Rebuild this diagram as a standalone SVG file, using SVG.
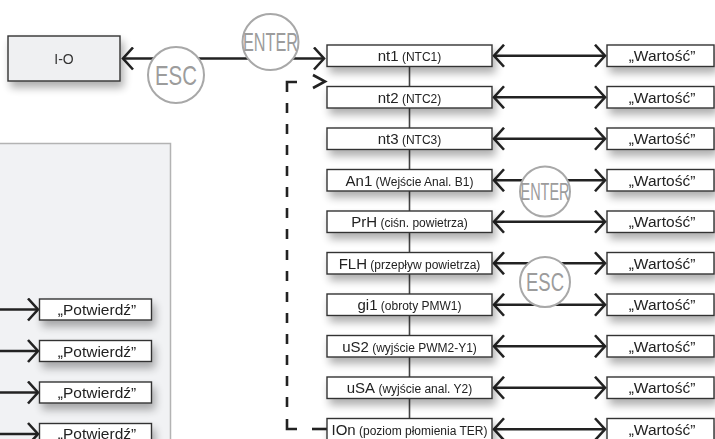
<svg xmlns="http://www.w3.org/2000/svg" width="715" height="439" viewBox="0 0 715 439">
<defs>
<filter id="sh" x="-20%" y="-40%" width="150%" height="220%">
<feGaussianBlur in="SourceAlpha" stdDeviation="4"/>
<feOffset dx="3" dy="6" result="b"/>
<feComponentTransfer><feFuncA type="linear" slope="0.32"/></feComponentTransfer>
<feMerge><feMergeNode/><feMergeNode in="SourceGraphic"/></feMerge>
</filter>
<marker id="ah" viewBox="-12 -12 14 24" refX="0" refY="0" markerWidth="14" markerHeight="24" markerUnits="userSpaceOnUse" orient="auto-start-reverse">
<path d="M -10 -11 L 0 0 L -10 11" fill="none" stroke="#222" stroke-width="2.6"/>
</marker>
</defs>
<style>
.box{fill:#fff;stroke:#333;stroke-width:1.4}
.t{font-family:"Liberation Sans",Arial,sans-serif;fill:#222;text-anchor:middle}
.big{font-size:15px}
.vb{font-size:15.5px}
.sm{font-size:12px}
.ln{stroke:#222;stroke-width:2.6;fill:none}
.vl{stroke:#444;stroke-width:1.6;fill:none}
.ds{stroke:#222;stroke-width:2.6;fill:none}
.circ{fill:#fff;stroke:#a8a8a8;stroke-width:2}
.ct{font-family:"Liberation Sans",Arial,sans-serif;fill:#9c9c9c;text-anchor:middle}
</style>
<rect width="715" height="439" fill="#fff"/>

<g id="panel">
<rect x="-5" y="143.5" width="175.5" height="300" fill="#f1f2f4" stroke="#b3b3b3" stroke-width="1.5"/>
</g>

<g id="connectors">
<line class="vl" x1="409.5" y1="66" x2="409.5" y2="419"/>
<line class="ln" x1="123" y1="58.5" x2="324" y2="58.5" marker-start="url(#ah)" marker-end="url(#ah)"/>
<polyline class="ds" points="297,82 287,82 287,92"/>
<line class="ds" x1="287" y1="103" x2="287" y2="418" stroke-dasharray="10 11"/>
<polyline class="ds" points="287,419 287,429 297,429"/>
<line class="ds" x1="312" y1="429" x2="327" y2="429"/>
<path d="M 313 75 L 325 81.5 L 313 88" fill="none" stroke="#222" stroke-width="2.6"/>
<line class="ln" x1="0" y1="309.5" x2="38" y2="309.5" marker-end="url(#ah)"/>
<line class="ln" x1="0" y1="351" x2="38" y2="351" marker-end="url(#ah)"/>
<line class="ln" x1="0" y1="392.5" x2="38" y2="392.5" marker-end="url(#ah)"/>
<line class="ln" x1="0" y1="434" x2="38" y2="434" marker-end="url(#ah)"/>
<line class="ln" x1="494" y1="55.75" x2="605" y2="55.75" marker-start="url(#ah)" marker-end="url(#ah)"/>
<line class="ln" x1="494" y1="97.25" x2="605" y2="97.25" marker-start="url(#ah)" marker-end="url(#ah)"/>
<line class="ln" x1="494" y1="138.75" x2="605" y2="138.75" marker-start="url(#ah)" marker-end="url(#ah)"/>
<line class="ln" x1="494" y1="180.25" x2="605" y2="180.25" marker-start="url(#ah)" marker-end="url(#ah)"/>
<line class="ln" x1="494" y1="221.75" x2="605" y2="221.75" marker-start="url(#ah)" marker-end="url(#ah)"/>
<line class="ln" x1="494" y1="263.25" x2="605" y2="263.25" marker-start="url(#ah)" marker-end="url(#ah)"/>
<line class="ln" x1="494" y1="304.75" x2="605" y2="304.75" marker-start="url(#ah)" marker-end="url(#ah)"/>
<line class="ln" x1="494" y1="346.25" x2="605" y2="346.25" marker-start="url(#ah)" marker-end="url(#ah)"/>
<line class="ln" x1="494" y1="387.75" x2="605" y2="387.75" marker-start="url(#ah)" marker-end="url(#ah)"/>
<line class="ln" x1="494" y1="429.25" x2="605" y2="429.25" marker-start="url(#ah)" marker-end="url(#ah)"/>
</g>

<g id="io" filter="url(#sh)">
<rect x="8" y="36" width="112" height="45" fill="#eff0f2" stroke="#333" stroke-width="1.4"/>
<text class="t" x="64" y="64" style="font-size:14px;fill:#333">I-O</text>
</g>

<g id="esc1"><circle class="circ" cx="176" cy="75" r="28"/><text class="ct" x="176" y="85" style="font-size:28px" textLength="42" lengthAdjust="spacingAndGlyphs">ESC</text></g>
<g id="enter1"><circle class="circ" cx="270.5" cy="42" r="28"/><text class="ct" x="270.5" y="51.3" style="font-size:26px" textLength="55" lengthAdjust="spacingAndGlyphs">ENTER</text></g>

<g id="r0" filter="url(#sh)"><rect class="box" x="327" y="45" width="165" height="21.5"/><text class="t" x="409.5" y="61"><tspan class="big">nt1</tspan><tspan class="sm"> (NTC1)</tspan></text></g>
<g id="r1" filter="url(#sh)"><rect class="box" x="327" y="86.5" width="165" height="21.5"/><text class="t" x="409.5" y="102.5"><tspan class="big">nt2</tspan><tspan class="sm"> (NTC2)</tspan></text></g>
<g id="r2" filter="url(#sh)"><rect class="box" x="327" y="128" width="165" height="21.5"/><text class="t" x="409.5" y="144"><tspan class="big">nt3</tspan><tspan class="sm"> (NTC3)</tspan></text></g>
<g id="r3" filter="url(#sh)"><rect class="box" x="327" y="169.5" width="165" height="21.5"/><text class="t" x="409.5" y="185.5"><tspan class="big">An1</tspan><tspan class="sm"> (Wejście Anal. B1)</tspan></text></g>
<g id="r4" filter="url(#sh)"><rect class="box" x="327" y="211" width="165" height="21.5"/><text class="t" x="409.5" y="227"><tspan class="big">PrH</tspan><tspan class="sm"> (ciśn. powietrza)</tspan></text></g>
<g id="r5" filter="url(#sh)"><rect class="box" x="327" y="252.5" width="165" height="21.5"/><text class="t" x="409.5" y="268.5"><tspan class="big">FLH</tspan><tspan class="sm"> (przepływ powietrza)</tspan></text></g>
<g id="r6" filter="url(#sh)"><rect class="box" x="327" y="294" width="165" height="21.5"/><text class="t" x="409.5" y="310"><tspan class="big">gi1</tspan><tspan class="sm"> (obroty PMW1)</tspan></text></g>
<g id="r7" filter="url(#sh)"><rect class="box" x="327" y="335.5" width="165" height="21.5"/><text class="t" x="409.5" y="351.5"><tspan class="big">uS2</tspan><tspan class="sm"> (wyjście PWM2-Y1)</tspan></text></g>
<g id="r8" filter="url(#sh)"><rect class="box" x="327" y="377" width="165" height="21.5"/><text class="t" x="409.5" y="393"><tspan class="big">uSA</tspan><tspan class="sm"> (wyjście anal. Y2)</tspan></text></g>
<g id="r9" filter="url(#sh)"><rect class="box" x="327" y="418.5" width="165" height="21.5"/><text class="t" x="409.5" y="434.5"><tspan class="big">IOn</tspan><tspan class="sm"> (poziom płomienia TER)</tspan></text></g>

<g id="v0" filter="url(#sh)"><rect class="box" x="607" y="45" width="107" height="21.5"/><text class="t vb" x="662" y="61">„Wartość”</text></g>
<g id="v1" filter="url(#sh)"><rect class="box" x="607" y="86.5" width="107" height="21.5"/><text class="t vb" x="662" y="102.5">„Wartość”</text></g>
<g id="v2" filter="url(#sh)"><rect class="box" x="607" y="128" width="107" height="21.5"/><text class="t vb" x="662" y="144">„Wartość”</text></g>
<g id="v3" filter="url(#sh)"><rect class="box" x="607" y="169.5" width="107" height="21.5"/><text class="t vb" x="662" y="185.5">„Wartość”</text></g>
<g id="v4" filter="url(#sh)"><rect class="box" x="607" y="211" width="107" height="21.5"/><text class="t vb" x="662" y="227">„Wartość”</text></g>
<g id="v5" filter="url(#sh)"><rect class="box" x="607" y="252.5" width="107" height="21.5"/><text class="t vb" x="662" y="268.5">„Wartość”</text></g>
<g id="v6" filter="url(#sh)"><rect class="box" x="607" y="294" width="107" height="21.5"/><text class="t vb" x="662" y="310">„Wartość”</text></g>
<g id="v7" filter="url(#sh)"><rect class="box" x="607" y="335.5" width="107" height="21.5"/><text class="t vb" x="662" y="351.5">„Wartość”</text></g>
<g id="v8" filter="url(#sh)"><rect class="box" x="607" y="377" width="107" height="21.5"/><text class="t vb" x="662" y="393">„Wartość”</text></g>
<g id="v9" filter="url(#sh)"><rect class="box" x="607" y="418.5" width="107" height="21.5"/><text class="t vb" x="662" y="434.5">„Wartość”</text></g>

<g id="p0" filter="url(#sh)"><rect class="box" x="39.5" y="299" width="112" height="21"/><text class="t vb" x="97" y="315">„Potwierdź”</text></g>
<g id="p1" filter="url(#sh)"><rect class="box" x="39.5" y="340.5" width="112" height="21"/><text class="t vb" x="97" y="356.5">„Potwierdź”</text></g>
<g id="p2" filter="url(#sh)"><rect class="box" x="39.5" y="382" width="112" height="21"/><text class="t vb" x="97" y="398">„Potwierdź”</text></g>
<g id="p3" filter="url(#sh)"><rect class="box" x="39.5" y="423.5" width="112" height="21"/><text class="t vb" x="97" y="439">„Potwierdź”</text></g>

<g id="enter2"><circle class="circ" cx="545" cy="191.5" r="25"/><text class="ct" x="545" y="199.7" style="font-size:23px" textLength="49" lengthAdjust="spacingAndGlyphs">ENTER</text></g>
<g id="esc2"><circle class="circ" cx="545" cy="282" r="25"/><text class="ct" x="545" y="291" style="font-size:25px" textLength="38" lengthAdjust="spacingAndGlyphs">ESC</text></g>
</svg>
